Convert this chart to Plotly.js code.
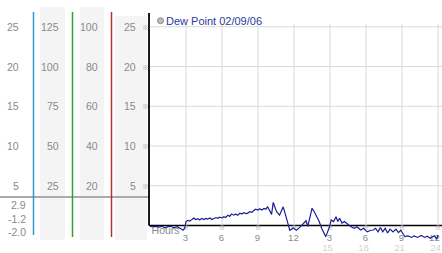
<!DOCTYPE html>
<html>
<head>
<meta charset="utf-8">
<script src="https://cdn.plot.ly/plotly-3.0.1.min.js"></script>
<style>
html,body{margin:0;padding:0;background:#fff;}
#chart{width:442px;height:253px;}
</style>
</head>
<body>
<div id="chart"></div>
<script>
// ---- data ----
const hours = [0,0.25,0.5,0.75,1,1.25,1.5,1.75,2,2.25,2.5,2.75,2.9,3,3.15,3.3,3.5,3.65,3.8,4,4.15,4.3,4.5,4.65,4.8,5,5.15,5.3,5.5,5.65,5.8,6,6.15,6.3,6.5,6.65,6.8,7,7.15,7.3,7.5,7.65,7.8,8,8.15,8.3,8.5,8.65,8.8,9,9.15,9.3,9.5,9.65,9.8,10,10.13,10.27,10.55,10.8,11.1,11.3,11.52,11.65,11.94,12.2,12.5,12.75,13,13.15,13.3,13.5,13.7,13.9,14.1,14.3,14.5,14.65,14.8,14.95,15.1,15.3,15.5,15.65,15.8,16,16.2,16.5,16.7,17,17.25,17.55,17.8,18.1,18.4,18.6,18.8,19,19.2,19.4,19.6,19.8,20,20.25,20.5,20.7,20.9,21.1,21.25,21.5,21.8,22,22.3,22.6,22.9,23.1,23.35,23.7,23.9,24];
const dewPoint = [-0.1,-0.15,-0.1,-0.2,-0.1,-0.3,-0.15,-0.1,-0.3,-0.15,-0.35,-0.6,-0.3,0.5,0.65,0.55,0.75,0.95,0.75,0.85,0.7,0.9,0.75,0.9,0.8,0.95,0.75,0.85,1.0,0.9,1.05,0.95,1.1,1.0,1.3,1.15,1.45,1.3,1.45,1.3,1.55,1.45,1.6,1.5,1.55,1.75,1.65,1.9,2.05,1.95,2.1,1.95,2.15,2.05,2.35,1.8,1.4,2.9,1.75,1.3,2.35,1.3,-0.15,-0.6,-0.3,-0.6,-0.2,0.2,0.6,-0.1,0.9,2.15,1.7,1.1,0.5,-0.35,-0.95,-1.4,-0.8,-0.2,0.7,0.5,1.1,0.5,0.9,0.3,0.5,0.1,-0.1,-0.35,-0.15,-0.57,-0.35,-0.8,-0.6,-0.57,-0.35,-0.8,-0.25,-0.8,-0.35,-0.95,-0.45,-0.8,-0.45,-0.9,-0.6,-1.1,-1.4,-1.3,-1.5,-1.3,-1.5,-1.25,-1.5,-1.35,-1.6,-1.3,-1.7,-1.2];

const yGrid = [25,20,15,10,5];
const col1Labels = [25,20,15,10,5];
const col2Labels = [125,100,75,50,25];
const col3Labels = [100,80,60,40,20];
const col4Labels = [25,20,15,10,5];
const statLabels = ['2.9','-1.2','-2.0'];
const xTicks = [3,6,9,12,15,18,21,24];
const xTickText1 = ['3','6','9','12','3','6','9','12'];
const xTicks2 = [15,18,21,24];
const xTickText2 = ['15','18','21','24'];
const seriesName = 'Dew Point 02/09/06';

// ---- geometry helpers ----
const W = 442, H = 253;
const px = x => x / W;
const py = y => 1 - y / H;
const FONT = 'Liberation Sans, Arial, sans-serif';
const MARKFONT = 'Noto Sans CJK JP, DejaVu Sans, sans-serif';
const GRAY = '#8a8a8a';

const shapes = [];
const annotations = [];

// gray panel backgrounds
[[40,65,7],[80,104,7],[115,147,16]].forEach(([a,b,t]) => {
  shapes.push({type:'rect', xref:'paper', yref:'paper', x0:px(a), x1:px(b), y0:py(240), y1:py(t),
    fillcolor:'#f4f4f4', line:{width:0}, layer:'below'});
});
// horizontal gridlines
yGrid.forEach(v => shapes.push({type:'line', xref:'paper', yref:'y', x0:px(149), x1:1, y0:v, y1:v,
  line:{color:'#d9d9d9', width:1}, layer:'below'}));
// vertical gridlines
xTicks.forEach(h => shapes.push({type:'line', xref:'x', yref:'y', x0:h, x1:h, y0:0, y1:25.35,
  line:{color:'#d9d9d9', width:1}, layer:'below'}));
// separator line on the left
shapes.push({type:'line', xref:'paper', yref:'paper', x0:0, x1:px(149), y0:py(197), y1:py(197),
  line:{color:'#ababab', width:2}, layer:'below'});
// coloured vertical lines
[[33.5,'#3399cc',235],[72.5,'#33a033',237],[111.5,'#b03333',237]].forEach(([x,c,b]) => {
  shapes.push({type:'line', xref:'paper', yref:'paper', x0:px(x), x1:px(x), y0:py(12), y1:py(b),
    line:{color:c, width:1.5}, layer:'above'});
});
// black axes
shapes.push({type:'line', xref:'paper', yref:'paper', x0:px(149), x1:px(149), y0:py(13), y1:py(225.5),
  line:{color:'#000', width:1.8}, layer:'below'});
shapes.push({type:'line', xref:'paper', yref:'y', x0:px(149), x1:1, y0:0, y1:0,
  line:{color:'#000', width:1.5}, layer:'below'});
// legend marker
shapes.push({type:'circle', xref:'paper', yref:'paper', x0:px(157.5), x1:px(163.5), y0:py(23.7), y1:py(17.7),
  fillcolor:'#bdbdbd', line:{color:'#8c8c8c', width:1}});

// left-panel labels
function colLabels(labels, rightX, scale) {
  labels.forEach(v => annotations.push({xref:'paper', yref:'y', x:px(rightX), y:v/scale, text:String(v),
    showarrow:false, xanchor:'right', yanchor:'middle', font:{family:FONT, size:10.5, color:GRAY}}));
}
colLabels(col1Labels, 21, 1);
colLabels(col2Labels, 61, 5);
colLabels(col3Labels, 100, 4);
colLabels(col4Labels, 138, 1);
// small tick marks on left axis
yGrid.forEach(v => annotations.push({xref:'paper', yref:'y', x:px(145), y:v, text:'※', showarrow:false,
  xanchor:'center', yanchor:'middle', font:{family:MARKFONT, size:7, color:'#a5a5a5'}}));
// stats
[205,219,232].forEach((y,i) => annotations.push({xref:'paper', yref:'paper', x:px(28), y:py(y), text:statLabels[i],
  showarrow:false, xanchor:'right', yanchor:'middle', font:{family:FONT, size:10.5, color:GRAY}}));
// legend text
annotations.push({xref:'paper', yref:'paper', x:px(164), y:py(20.7), text:seriesName, showarrow:false,
  xanchor:'left', yanchor:'middle', font:{family:FONT, size:11, color:'#2b3a9c'}});

const yOf = p => (225.5 - p) / 7.95;
const labelX = h => h - (h === 24 ? 0.3 : 0.05);

const traces = [
  {x:xTicks, y:xTicks.map(()=>yOf(228.8)), mode:'text', text:xTicks.map(()=>'※'), hoverinfo:'skip',
   textfont:{family:MARKFONT, size:6, color:'#a5a5a5'}, cliponaxis:false, showlegend:false},
  {x:xTicks.map(labelX), y:xTicks.map(()=>yOf(238.5)), mode:'text', text:xTickText1, hoverinfo:'skip',
   textfont:{family:FONT, size:9.5, color:GRAY}, cliponaxis:false, showlegend:false},
  {x:xTicks2.map(h=>h-0.2), y:xTicks2.map(()=>yOf(248.3)), mode:'text', text:xTickText2, hoverinfo:'skip',
   textfont:{family:FONT, size:9.5, color:'#d2d2d2'}, cliponaxis:false, showlegend:false},
  {x:[1.3], y:[yOf(231)], mode:'text', text:['Hours'], hoverinfo:'skip',
   textfont:{family:FONT, size:10.5, color:GRAY}, cliponaxis:false, showlegend:false},
  {x:hours, y:dewPoint, mode:'lines', name:seriesName, line:{color:'#1c1c96', width:1.2}, showlegend:false}
];

const layout = {
  width:W, height:H, margin:{l:0,r:0,t:0,b:0}, paper_bgcolor:'#fff', plot_bgcolor:'rgba(0,0,0,0)',
  xaxis:{domain:[0,1], range:[-150/12, 292/12], visible:false, fixedrange:true},
  yaxis:{domain:[0,1], range:[yOf(253), yOf(0)], visible:false, fixedrange:true},
  shapes:shapes, annotations:annotations, showlegend:false
};
Plotly.newPlot('chart', traces, layout, {staticPlot:true, displayModeBar:false});
</script>
</body>
</html>
